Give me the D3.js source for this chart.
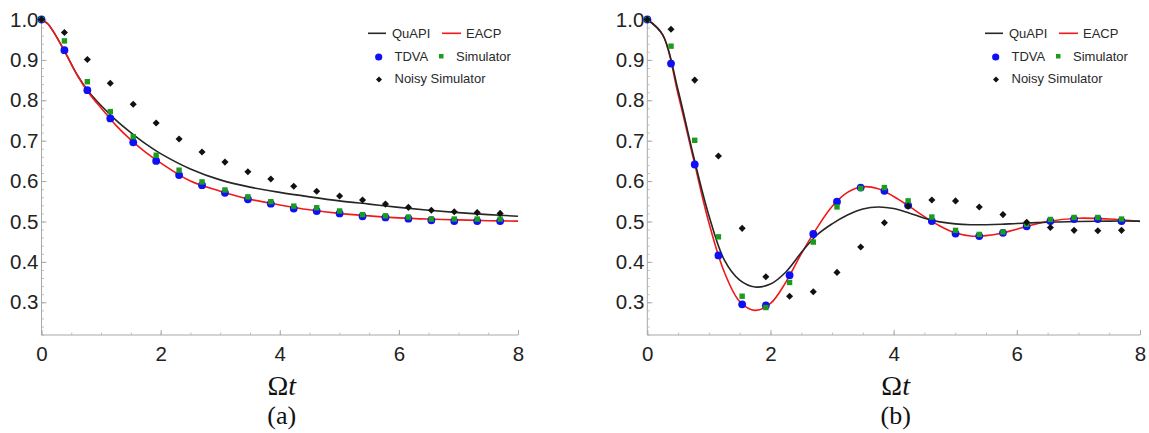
<!DOCTYPE html>
<html>
<head>
<meta charset="utf-8">
<script src="https://cdn.jsdelivr.net/npm/d3@7"></script>
<style>
  body { margin: 0; background: #fff; }
  .tick text { font-family: "Liberation Sans", Arial, sans-serif; font-size: 20.5px; fill: #222; }
  .legend text { font-family: "Liberation Sans", Arial, sans-serif; font-size: 13px; fill: #2a2a2a; }
  .title { font-family: "Liberation Serif", "Times New Roman", serif; fill: #111; }
</style>
</head>
<body>
<svg id="chart" width="1149" height="433"></svg>
<script>
// sample times of the markers (same for both panels)
const tPoints = [0, 0.385, 0.77, 1.155, 1.54, 1.925, 2.31, 2.695, 3.08, 3.465, 3.85,
                 4.235, 4.62, 5.005, 5.39, 5.775, 6.16, 6.545, 6.93, 7.315, 7.7];

// panel (a)
const tdvaA  = [1.0, 0.924, 0.825, 0.755, 0.696, 0.650, 0.615, 0.590, 0.571, 0.555, 0.544,
                0.532, 0.526, 0.520, 0.513, 0.510, 0.507, 0.503, 0.501, 0.501, 0.501];
const simA   = [1.0, 0.947, 0.846, 0.772, 0.710, 0.664, 0.627, 0.598, 0.578, 0.561, 0.549,
                0.538, 0.534, 0.526, 0.517, 0.514, 0.511, 0.506, 0.506, 0.506, 0.506];
const noisyA = [1.0, 0.968, 0.901, 0.842, 0.790, 0.744, 0.704, 0.672, 0.647, 0.623, 0.605,
                0.587, 0.575, 0.563, 0.553, 0.543, 0.535, 0.528, 0.524, 0.522, 0.520];
const tCurveA = [0, 0.1, 0.2, 0.4, 0.6, 0.8, 1, 1.25, 1.5, 1.75, 2, 2.5, 3, 3.5, 4, 4.5, 5, 5.5, 6, 6.5, 7, 7.5, 8];
const quapiA = [1.0, 0.99, 0.970, 0.918, 0.863, 0.820, 0.787, 0.751, 0.720, 0.692, 0.668, 0.630,
                0.603, 0.585, 0.572, 0.561, 0.551, 0.543, 0.535, 0.528, 0.522, 0.517, 0.513];
const eacpA  = [1.0, 0.99, 0.970, 0.918, 0.862, 0.817, 0.781, 0.738, 0.702, 0.671, 0.645, 0.600,
                0.575, 0.555, 0.541, 0.529, 0.520, 0.514, 0.509, 0.506, 0.504, 0.502, 0.501];

// panel (b)
const tdvaB  = [1.0, 0.891, 0.641, 0.416, 0.295, 0.292, 0.367, 0.469, 0.549, 0.584, 0.576,
                0.540, 0.501, 0.470, 0.464, 0.472, 0.488, 0.501, 0.506, 0.506, 0.501];
const simB   = [1.0, 0.934, 0.701, 0.462, 0.315, 0.287, 0.349, 0.449, 0.536, 0.582, 0.584,
                0.551, 0.511, 0.478, 0.468, 0.474, 0.493, 0.505, 0.510, 0.510, 0.506];
const noisyB = [1.0, 0.976, 0.850, 0.662, 0.483, 0.363, 0.315, 0.326, 0.374, 0.437, 0.497,
                0.538, 0.553, 0.551, 0.536, 0.517, 0.498, 0.485, 0.478, 0.477, 0.478];
const tCurveB = [0, 0.25, 0.5, 0.75, 1, 1.25, 1.5, 1.75, 2, 2.25, 2.5, 2.75, 3, 3.25, 3.5, 3.75,
                 4, 4.25, 4.5, 4.75, 5, 5.25, 5.5, 5.75, 6, 6.5, 7, 7.5, 8];
const quapiB = [1.0, 0.962, 0.825, 0.662, 0.515, 0.405, 0.355, 0.338, 0.345, 0.375, 0.423, 0.466,
                0.494, 0.516, 0.531, 0.536, 0.532, 0.521, 0.508, 0.499, 0.494, 0.492, 0.492,
                0.493, 0.495, 0.498, 0.500, 0.501, 0.501];
const eacpB  = [1.0, 0.962, 0.815, 0.655, 0.497, 0.375, 0.302, 0.280, 0.297, 0.350, 0.420, 0.483,
                0.537, 0.572, 0.586, 0.581, 0.562, 0.538, 0.512, 0.489, 0.472, 0.464, 0.465,
                0.471, 0.481, 0.500, 0.508, 0.506, 0.500];

const yTicks = [0.3, 0.4, 0.5, 0.6, 0.7, 0.8, 0.9, 1.0];
const xTicks = [0, 2, 4, 6, 8];

const svg = d3.select("#chart");
svg.append("rect").attr("width", 1149).attr("height", 433).attr("fill", "#fff");

const y = d3.scaleLinear().domain([0.219, 1.0]).range([335, 19.5]);

const panels = [
    { x0: 41.5, x1: 518, legX: 368, label: "(a)",
      tdva: tdvaA, sim: simA, noisy: noisyA, tc: tCurveA, quapi: quapiA, eacp: eacpA, redOnTop: true },
    { x0: 647.3, x1: 1140, legX: 985, label: "(b)",
      tdva: tdvaB, sim: simB, noisy: noisyB, tc: tCurveB, quapi: quapiB, eacp: eacpB, redOnTop: false }
];

const COL = { red: "#f01818", black: "#262626", blue: "#1010f5", green: "#1c9c1c", axis: "#a8a8a8" };

panels.forEach(p => {
    const x = d3.scaleLinear().domain([0, 8]).range([p.x0, p.x1]);
    const g = svg.append("g");

    // minor ticks
    g.append("g").attr("transform", `translate(${p.x0},0)`)
        .call(d3.axisLeft(y).tickValues(d3.range(0.22, 1.001, 0.02)).tickSize(-2.5).tickFormat(""))
        .call(s => s.select(".domain").remove())
        .call(s => s.selectAll("line").attr("stroke", "#c4c4c4"));
    g.append("g").attr("transform", "translate(0,335)")
        .call(d3.axisBottom(x).tickValues(d3.range(0, 8.01, 0.5)).tickSize(-2.5).tickFormat(""))
        .call(s => s.select(".domain").remove())
        .call(s => s.selectAll("line").attr("stroke", "#c4c4c4"));

    // major axes
    g.append("g").attr("transform", `translate(${p.x0},0)`)
        .call(d3.axisLeft(y).tickValues(yTicks).tickSize(-5).tickPadding(3).tickFormat(d3.format(".1f")))
        .call(s => s.select(".domain").attr("d", `M0,${y(0.219)}V${y(1.0) - 2}`).attr("stroke", COL.axis))
        .call(s => s.selectAll("line").attr("stroke", COL.axis));
    g.append("g").attr("transform", "translate(0,335)")
        .call(d3.axisBottom(x).tickValues(xTicks).tickSize(-5).tickPadding(11.5).tickFormat(d3.format("d")))
        .call(s => s.select(".domain").attr("d", `M${p.x0},0H${p.x1}`).attr("stroke", COL.axis))
        .call(s => s.selectAll("line").attr("stroke", COL.axis));
    g.selectAll(".tick text").attr("stroke", "none");

    // curves
    const line = d3.line().x(d => x(d[0])).y(d => y(d[1])).curve(d3.curveCatmullRom);
    const black = p.tc.map((t, i) => [t, p.quapi[i]]);
    const red = p.tc.map((t, i) => [t, p.eacp[i]]);
    const order = p.redOnTop ? [[black, COL.black], [red, COL.red]] : [[red, COL.red], [black, COL.black]];
    order.forEach(([d, c]) => {
        g.append("path").datum(d).attr("d", line)
            .attr("fill", "none").attr("stroke", c).attr("stroke-width", 1.6);
    });

    // markers
    g.selectAll(".tdva").data(tPoints).enter().append("circle")
        .attr("cx", t => x(t)).attr("cy", (t, i) => y(p.tdva[i])).attr("r", 3.9)
        .attr("fill", COL.blue);
    g.selectAll(".sim").data(tPoints).enter().append("rect")
        .attr("x", t => x(t) - 2.7).attr("y", (t, i) => y(p.sim[i]) - 2.7)
        .attr("width", 5.4).attr("height", 5.4).attr("fill", COL.green);
    g.selectAll(".noisy").data(tPoints).enter().append("path")
        .attr("d", d3.symbol(d3.symbolSquare, 25))
        .attr("transform", (t, i) => `translate(${x(t)},${y(p.noisy[i])}) rotate(45)`)
        .attr("fill", "#111");

    // legend
    const lg = g.append("g").attr("class", "legend");
    const L = p.legX;
    lg.append("line").attr("x1", L).attr("x2", L + 18).attr("y1", 33.3).attr("y2", 33.3)
        .attr("stroke", COL.black).attr("stroke-width", 1.6);
    lg.append("text").attr("x", L + 24).attr("y", 33.3).attr("dy", "0.35em").text("QuAPI");
    lg.append("line").attr("x1", L + 74).attr("x2", L + 93).attr("y1", 33.3).attr("y2", 33.3)
        .attr("stroke", COL.red).attr("stroke-width", 1.6);
    lg.append("text").attr("x", L + 98).attr("y", 33.3).attr("dy", "0.35em").text("EACP");

    lg.append("circle").attr("cx", L + 10.7).attr("cy", 57).attr("r", 3.6).attr("fill", COL.blue);
    lg.append("text").attr("x", L + 26.5).attr("y", 56).attr("dy", "0.35em").text("TDVA");
    lg.append("rect").attr("x", L + 71).attr("y", 54).attr("width", 4.5).attr("height", 4.5).attr("fill", COL.green);
    lg.append("text").attr("x", L + 88).attr("y", 56).attr("dy", "0.35em").text("Simulator");

    lg.append("path").attr("d", d3.symbol(d3.symbolSquare, 18))
        .attr("transform", `translate(${L + 11},${79.5}) rotate(45)`).attr("fill", "#111");
    lg.append("text").attr("x", L + 26.5).attr("y", 78.7).attr("dy", "0.35em").text("Noisy Simulator");

    // titles
    const cx = (p.x0 + p.x1) / 2 + 2;
    const tt = g.append("text").attr("class", "title").attr("x", cx).attr("y", 395)
        .attr("text-anchor", "middle").attr("font-size", 28);
    tt.append("tspan").text("Ω");
    tt.append("tspan").attr("font-style", "italic").text("t");
    g.append("text").attr("class", "title").attr("x", cx).attr("y", 424)
        .attr("text-anchor", "middle").attr("font-size", 26).text(p.label);
});
</script>
</body>
</html>
